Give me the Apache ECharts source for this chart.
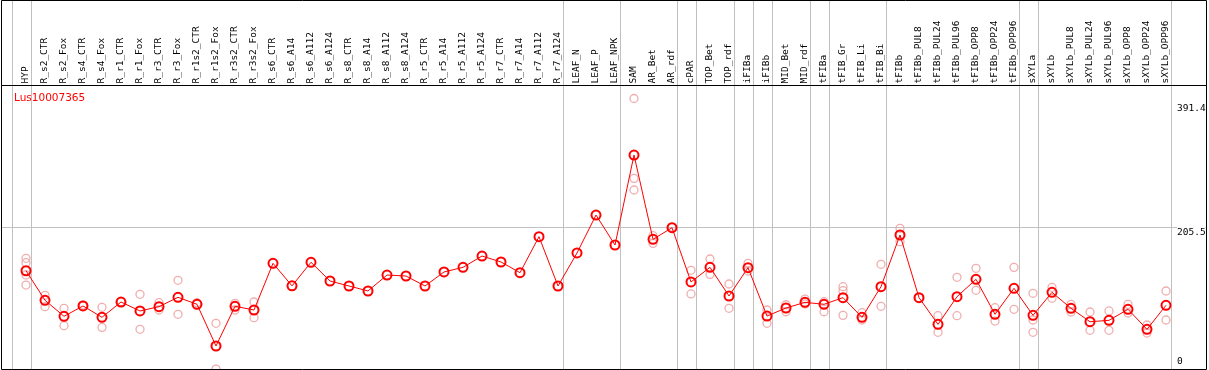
<!DOCTYPE html>
<html><head><meta charset="utf-8">
<script src="https://cdn.jsdelivr.net/npm/echarts@6/dist/echarts.min.js"></script>
<style>html,body{margin:0;padding:0;background:#fff}#c{width:1209px;height:370px}</style>
</head><body><div id="c"></div>
<script>
const geneName = 'Lus10007365';
const categories = ['HYP','R_s2_CTR','R_s2_Fox','R_s4_CTR','R_s4_Fox','R_r1_CTR','R_r1_Fox','R_r3_CTR','R_r3_Fox','R_r1s2_CTR','R_r1s2_Fox','R_r3s2_CTR','R_r3s2_Fox','R_s6_CTR','R_s6_A14','R_s6_A112','R_s6_A124','R_s8_CTR','R_s8_A14','R_s8_A112','R_s8_A124','R_r5_CTR','R_r5_A14','R_r5_A112','R_r5_A124','R_r7_CTR','R_r7_A14','R_r7_A112','R_r7_A124','LEAF_N','LEAF_P','LEAF_NPK','SAM','AR_Bet','AR_rdf','cPAR','TOP_Bet','TOP_rdf','iFIBa','iFIBb','MID_Bet','MID_rdf','tFIBa','tFIB_Gr','tFIB_Li','tFIB_Bi','tFIBb','tFIBb_PUL8','tFIBb_PUL24','tFIBb_PUL96','tFIBb_OPP8','tFIBb_OPP24','tFIBb_OPP96','sXYLa','sXYLb','sXYLb_PUL8','sXYLb_PUL24','sXYLb_PUL96','sXYLb_OPP8','sXYLb_OPP24','sXYLb_OPP96'];
const means = [143.1,100.5,77.4,92.3,76.0,98.0,85.1,91.3,104.8,94.7,
  34.6,91.8,86.5,153.8,121.3,155.3,128.3,121.1,113.9,136.9,
  135.5,121.1,141.3,148.0,164.3,155.7,140.3,192.2,121.1,168.7,
  223.4,180.2,309.9,188.4,205.1,126.9,148.0,106.7,147.5,77.8,
  89.4,97.5,94.7,104.3,75.9,120.1,194.6,104.3,65.8,105.7,
  130.7,80.3,117.8,78.8,112.0,88.9,69.6,71.6,87.5,58.7,93.3];
const replicates = [
  [161.0,154.7,137.0,122.5],[107.7,91.3],[88.9,63.9],[93.7],[90.4,61.5],[98.5],[109.1,58.7],[97.0,86.5],[129.3,80.3],[97.0],
  [67.3,1.4],[96.1,86.5],[98.0,75.4],[],[],[],[],[],[],[],
  [],[],[],[],[],[],[],[],[],[],
  [],[],[391.4,276.3,259.5],[193.6,182.6],[206.0],[143.7,109.6],[160.0,137.9],[124.0,88.9],[153.8,142.7],[86.5,67.3],
  [94.1,84.0],[102.3,95.1],[98.5,84.0],[120.1,114.4,78.8],[82.6,72.1],[152.4,91.8],[204.3,185.0],[104.3],[78.3,54.3],[133.6,78.3],
  [146.6,114.9],[89.8,70.6],[148.0,87.5],[110.6,72.1,54.3],[119.2,103.4],[94.7,83.6],[83.6,57.2],[85.1,57.2],[94.7,82.2],[64.9,53.3],[113.9,72.1]];
const yTickValues = [391.4, 205.5, 0];
const yTickLabels = ['391.4', '205.5', '0'];
const separatorsAfter = [-1, 0, 28, 31, 34, 35, 37, 38, 39, 41, 42, 45, 52, 53, 60];

const repPoints = [];
replicates.forEach((arr, i) => arr.forEach(v => repPoints.push([i, v])));

const mono = 'DejaVu Sans Mono';

const chart = echarts.init(document.getElementById('c'), null, {renderer: 'canvas'});
chart.setOption({
  animation: false,
  backgroundColor: '#fff',
  title: {
    text: geneName, left: 9, top: 88,
    textStyle: {color: '#ff0000', fontSize: 10.5, fontWeight: 'normal', fontFamily: 'DejaVu Sans'}
  },
  grid: {left: 16.5, right: 33.5, top: 98.5, bottom: 0, containLabel: false},
  xAxis: {
    type: 'category', data: categories, position: 'top', boundaryGap: true,
    axisLine: {show: false}, axisTick: {show: false}, splitLine: {show: false},
    axisLabel: {interval: 0, rotate: 90, margin: 15, color: '#000', fontFamily: mono, fontSize: 9.5}
  },
  yAxis: {
    type: 'value', min: 0, max: 391.4,
    axisLine: {show: false}, axisTick: {show: false}, axisLabel: {show: false}, splitLine: {show: false}
  },
  series: [
    {
      type: 'scatter', data: repPoints, symbol: 'circle', symbolSize: 8, z: 2,
      itemStyle: {color: 'rgba(0,0,0,0)', borderColor: '#eb9a9a', borderWidth: 1.3},
      clip: false
    },
    {
      type: 'line', data: means, symbol: 'circle', symbolSize: 9, showAllSymbol: true, z: 3,
      lineStyle: {color: '#ff0000', width: 1},
      itemStyle: {color: 'rgba(0,0,0,0)', borderColor: '#ff0000', borderWidth: 2}
    }
  ]
});

function drawGraphics() {
  const x0 = chart.convertToPixel({xAxisIndex: 0}, 0);
  const x1 = chart.convertToPixel({xAxisIndex: 0}, 1);
  const band = x1 - x0;
  const els = [];
  const L = 1.5, R = 1206.5, T = 0.5, B = 369.5;
  separatorsAfter.forEach(k => {
    const x = Math.round(x0 + band * k + 4.5) + 0.5;
    els.push({type: 'line', z: 1, shape: {x1: x, y1: T, x2: x, y2: B}, style: {stroke: '#c0c0c0', lineWidth: 1}});
  });
  const yMid = Math.round(chart.convertToPixel({yAxisIndex: 0}, yTickValues[1])) + 0.5;
  els.push({type: 'line', z: 1, shape: {x1: L, y1: yMid, x2: R, y2: yMid}, style: {stroke: '#c0c0c0', lineWidth: 1}});
  els.push({type: 'line', z: 5, shape: {x1: L, y1: 85.5, x2: R, y2: 85.5}, style: {stroke: '#000', lineWidth: 1}});
  els.push({type: 'rect', z: 5, shape: {x: L, y: T, width: R - L, height: B - T}, style: {fill: 'none', stroke: '#000', lineWidth: 1}});
  const offsets = [10, 4.6, -8];
  yTickValues.forEach((v, i) => {
    const y = chart.convertToPixel({yAxisIndex: 0}, v) + offsets[i];
    els.push({type: 'text', z: 6, x: 1177, y: y,
      style: {text: yTickLabels[i], fill: '#000', font: '9.5px "DejaVu Sans Mono"', textAlign: 'left', textVerticalAlign: 'middle', backgroundColor: '#fff'}});
  });
  chart.setOption({graphic: {elements: els}});
}
drawGraphics();
</script>
</body></html>
